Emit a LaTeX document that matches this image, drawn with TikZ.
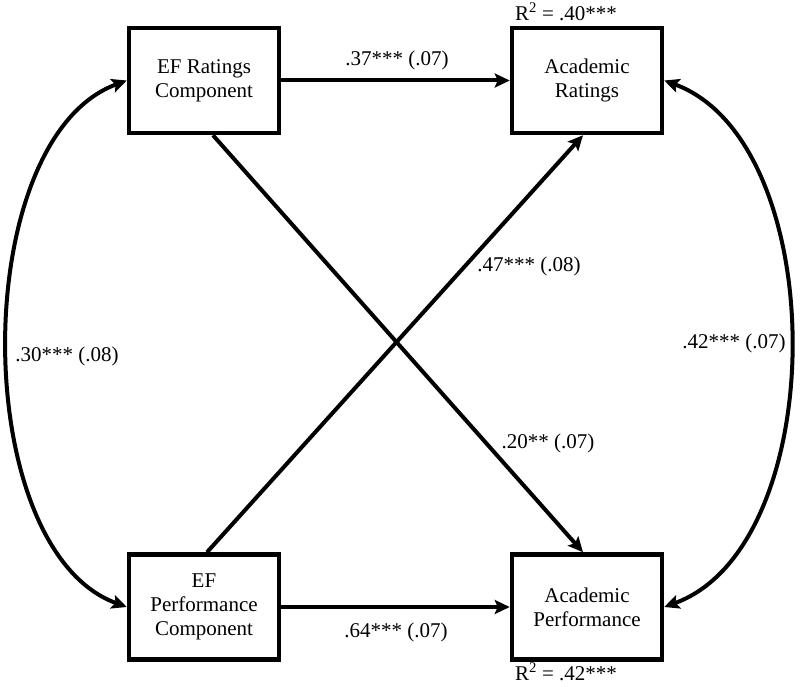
\documentclass[tikz,border=0pt]{standalone}
\usepackage{fontspec}
\setmainfont{Liberation Serif}
\usetikzlibrary{arrows.meta}
\tikzset{
  box/.style={draw, line width=4.5pt, minimum width=150pt, minimum height=105pt, align=center, font=\fontsize{21}{24}\selectfont, inner sep=0pt},
  lbl/.style={font=\fontsize{21}{24}\selectfont, inner sep=0pt},
  conn/.style={line width=4pt, -{Stealth[length=15pt,width=14pt,inset=3pt]}},
  biconn/.style={line width=4pt, {Stealth[length=15pt,width=14pt,inset=3pt]}-{Stealth[length=15pt,width=14pt,inset=3pt]}}
}
\begin{document}
\begin{tikzpicture}[x=1pt,y=-1pt]
\useasboundingbox (0,0) rectangle (800,687);
\node[box] (efr) at (204,80.5) {EF Ratings\\Component};
\node[box] (ar) at (587,80.5) {Academic\\Ratings};
\node[box] (efp) at (204,607) {EF\\Performance\\Component};
\node[box] (ap) at (587,607) {Academic\\Performance};

\draw[conn] (efr.east) -- (ar.west);
\draw[conn] (efp.east) -- (ap.west);
\draw[conn] ([xshift=9pt]efr.south) -- ([xshift=-4pt]ap.north);
\draw[conn] ([xshift=3pt]efp.north) -- ([xshift=-4pt]ar.south);
\draw[biconn] (efr.west) .. controls (-32,139) and (-32,549) .. (efp.west);
\draw[biconn] (ar.east) .. controls (832,142) and (832,546) .. (ap.east);

\node[lbl] (l1) at (397,60) {.37*** (.07)};
\node[lbl] (l2) at (529,266) {.47*** (.08)};
\node[lbl] (l3) at (548,443) {.20** (.07)};
\node[lbl] (l4) at (396,632) {.64*** (.07)};
\node[lbl] (l5) at (67,356) {.30*** (.08)};
\node[lbl] (l6) at (734,343) {.42*** (.07)};
\node[lbl] (r1) at (566,12) {R\textsuperscript{2} = .40***};
\node[lbl] (r2) at (566,672) {R\textsuperscript{2} = .42***};
\end{tikzpicture}
\end{document}
